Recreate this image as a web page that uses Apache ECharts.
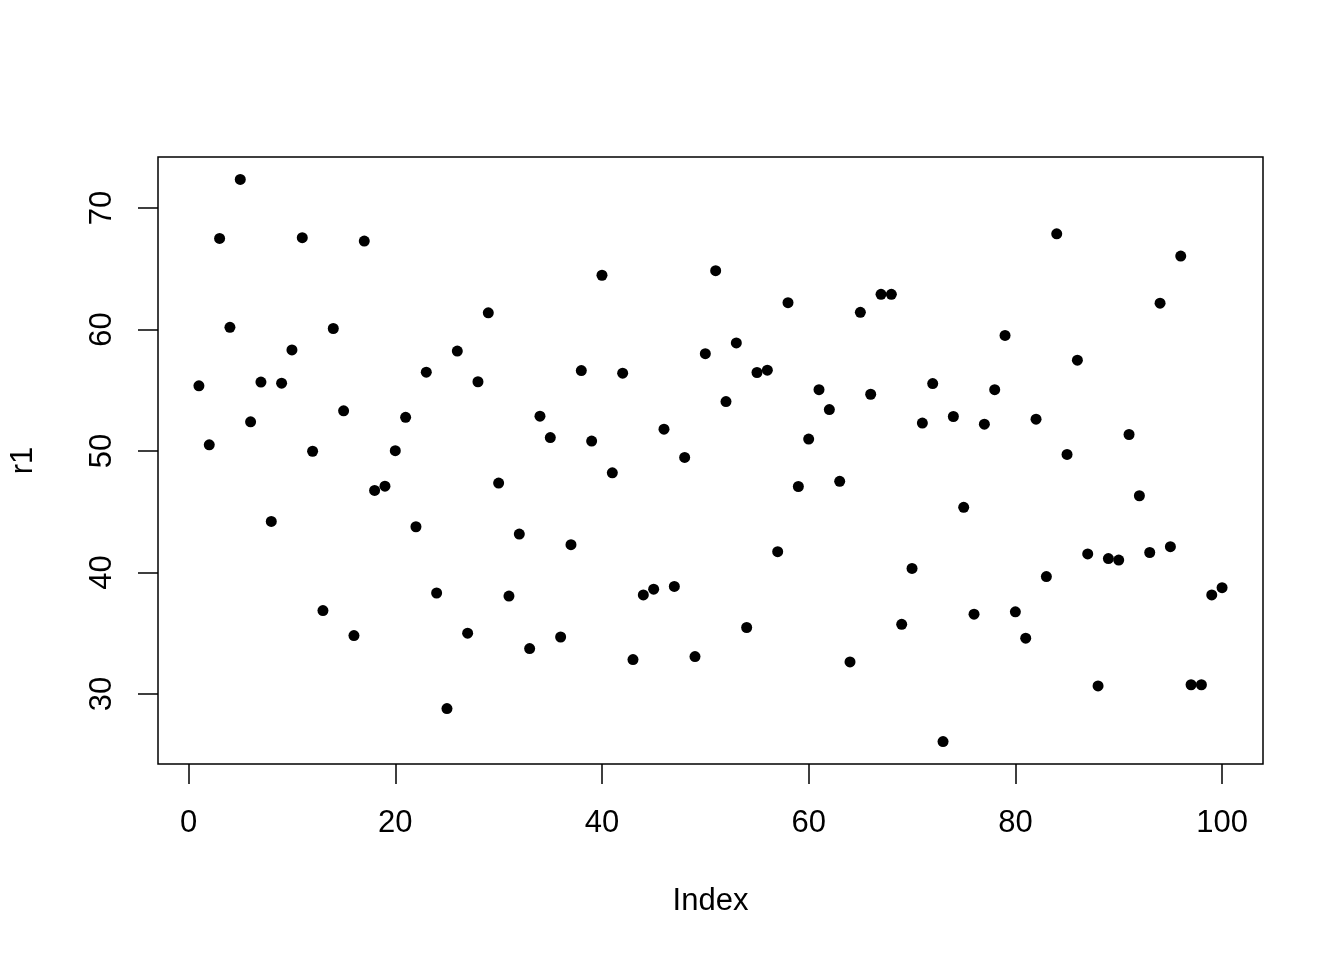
<!DOCTYPE html>
<html>
<head>
<meta charset="utf-8">
<script src="https://cdn.jsdelivr.net/npm/echarts@6/dist/echarts.min.js"></script>
<style>
html,body{margin:0;padding:0;background:#fff;}
#chart{width:1344px;height:960px;}
</style>
</head>
<body>
<div id="chart"></div>
<script>
// Data: r1 values at Index 1..100
const r1 = [
  55.36, 50.51, 67.49, 60.18, 72.34, 52.40, 55.67, 44.21, 55.58, 58.32,
  67.55, 49.98, 36.87, 60.08, 53.31, 34.82, 67.27, 46.76, 47.11, 50.03,
  52.77, 43.77, 56.49, 38.32, 28.81, 58.22, 35.01, 55.70, 61.37, 47.36,
  38.07, 43.17, 33.75, 52.87, 51.11, 34.70, 42.29, 56.62, 50.82, 64.46,
  48.21, 56.40, 32.84, 38.16, 38.63, 51.80, 38.86, 49.47, 33.09, 58.01,
  64.84, 54.07, 58.89, 35.48, 56.46, 56.65, 41.72, 62.20, 47.08, 50.98,
  55.05, 53.41, 47.51, 32.65, 61.41, 54.67, 62.89, 62.89, 35.74, 40.34,
  52.30, 55.55, 26.10, 52.84, 45.37, 36.58, 52.21, 55.05, 59.51, 36.77,
  34.60, 52.62, 39.67, 67.87, 49.72, 57.47, 41.53, 30.67, 41.15, 41.03,
  51.36, 46.32, 41.65, 62.16, 42.13, 66.04, 30.77, 30.77, 38.16, 38.76
];
const xTicks = [0, 20, 40, 60, 80, 100];
const yTicks = [30, 40, 50, 60, 70];
const xName = 'Index';
const yName = 'r1';

const idx = r1.map((_, i) => i + 1);
const points = r1.map((v, i) => [idx[i], v]);

// R-style 4% range extension
function extend(arr) {
  const lo = Math.min(...arr), hi = Math.max(...arr);
  const d = (hi - lo) * 0.04;
  return [lo - d, hi + d];
}
const xl = extend(idx);
const yl = extend(r1);

const font = '"Liberation Sans", Arial, Helvetica, sans-serif';
const chart = echarts.init(document.getElementById('chart'), null, {renderer: 'canvas'});
chart.setOption({
  backgroundColor: '#fff',
  animation: false,
  grid: {
    left: 157, right: 81, top: 157, bottom: 196,
    show: true, borderColor: '#000', borderWidth: 1.5, backgroundColor: 'transparent'
  },
  xAxis: {
    type: 'value', min: xl[0], max: xl[1],
    axisLine: {show: false, onZero: false},
    splitLine: {show: false},
    axisTick: {show: true, customValues: xTicks, length: 20, inside: false,
      lineStyle: {color: '#000', width: 1.5}},
    axisLabel: {show: true, customValues: xTicks, margin: 44, fontSize: 31,
      color: '#000', fontFamily: font},
    name: xName, nameLocation: 'middle', nameGap: 122,
    nameTextStyle: {fontSize: 31, color: '#000', fontFamily: font}
  },
  yAxis: {
    type: 'value', min: yl[0], max: yl[1],
    axisLine: {show: false, onZero: false},
    splitLine: {show: false},
    axisTick: {show: true, customValues: yTicks, length: 20, inside: false,
      lineStyle: {color: '#000', width: 1.5}},
    axisLabel: {show: true, customValues: yTicks, margin: 40, fontSize: 31,
      color: '#000', fontFamily: font, rotate: 90},
    name: yName, nameLocation: 'middle', nameGap: 119, nameRotate: 90,
    nameTextStyle: {fontSize: 31, color: '#000', fontFamily: font}
  },
  series: [{
    type: 'scatter',
    data: points,
    symbol: 'circle',
    symbolSize: 11,
    itemStyle: {color: '#000', opacity: 1},
    silent: true
  }]
});
</script>
</body>
</html>
